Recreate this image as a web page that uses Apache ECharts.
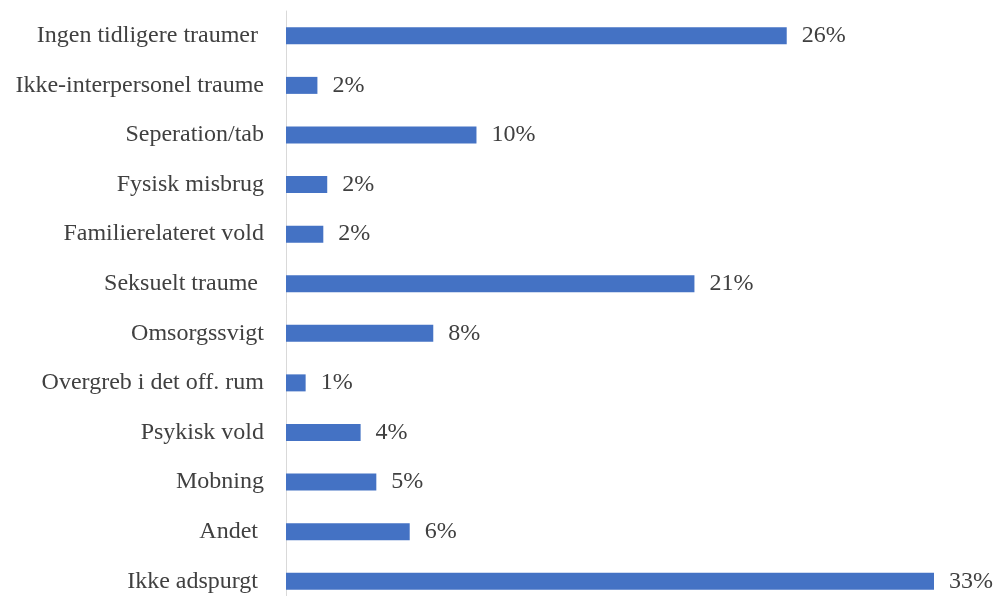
<!DOCTYPE html>
<html>
<head>
<meta charset="utf-8">
<script src="https://cdn.jsdelivr.net/npm/echarts@6/dist/echarts.min.js"></script>
<style>
  html, body { margin: 0; padding: 0; background: #ffffff; }
  #chart { width: 997px; height: 596px; }
</style>
</head>
<body>
<div id="chart"></div>
<script>
// Trauma categories, top to bottom
const categories = [
  'Ingen tidligere traumer ',
  'Ikke-interpersonel traume',
  'Seperation/tab',
  'Fysisk misbrug',
  'Familierelateret vold',
  'Seksuelt traume ',
  'Omsorgssvigt',
  'Overgreb i det off. rum',
  'Psykisk vold',
  'Mobning',
  'Andet ',
  'Ikke adspurgt '
];

// Share of respondents, in percent
const shares = [25.5, 1.6, 9.7, 2.1, 1.9, 20.8, 7.5, 1.0, 3.8, 4.6, 6.3, 33.0];

const chart = echarts.init(document.getElementById('chart'));
const serif = '"Liberation Serif", "DejaVu Serif", serif';

chart.setOption({
  animation: false,
  backgroundColor: '#ffffff',
  grid: { left: 286, right: 63, top: 11, height: 595, outerBoundsMode: 'none', containLabel: false },
  xAxis: {
    type: 'value',
    min: 0,
    max: 'dataMax',
    show: false
  },
  yAxis: {
    type: 'category',
    data: categories,
    inverse: true,
    axisLine: { show: true, lineStyle: { color: '#d9d9d9', width: 1 } },
    axisTick: { show: false },
    axisLabel: {
      margin: 22,
      color: '#404040',
      fontFamily: serif,
      fontSize: 24
    }
  },
  series: [{
    type: 'bar',
    data: shares,
    barWidth: 17,
    itemStyle: { color: '#4472C4' },
    label: {
      show: true,
      position: 'right',
      distance: 15,
      color: '#404040',
      fontFamily: serif,
      fontSize: 24,
      formatter: p => Math.round(p.value) + '%'
    }
  }]
});
</script>
</body>
</html>
